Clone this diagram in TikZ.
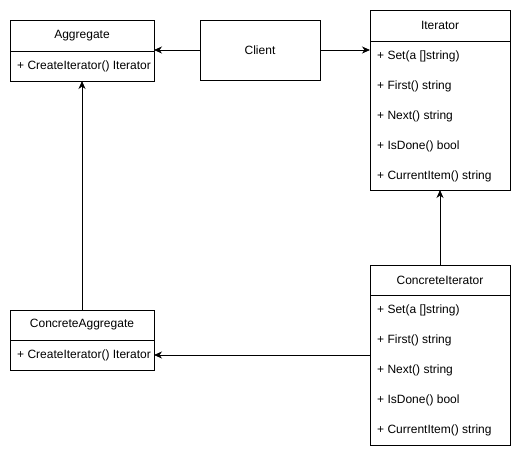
\documentclass[tikz,border=0pt]{standalone}
\usepackage{fontspec}
\setmainfont{Liberation Sans}
\usetikzlibrary{arrows.meta,positioning}

\tikzset{
  classbox/.style={draw, line width=.8pt, inner sep=0, outer sep=0, anchor=north west, minimum width=144},
  method/.style={anchor=west, inner sep=2pt},
  link/.style={line width=.8pt, -{Stealth[length=8pt,width=7pt,inset=2.5pt]}}
}

\begin{document}
\begin{tikzpicture}[x=1pt, y=-1pt, every node/.style={font=\fontsize{12}{14}\selectfont}]
  \useasboundingbox (0,0) rectangle (521,456);

  % classes on the left
  \node[classbox, minimum height=31] (agghead) at (10,20) {Aggregate};
  \node[classbox, minimum height=30] (aggbody) at (agghead.south west) {};
  \node[method] (aggcreate) at (15,66) {+ CreateIterator() Iterator};

  \node[classbox, minimum height=30] (cagghead) at (10,310) {ConcreteAggregate};
  \node[classbox, minimum height=30] (caggbody) at (cagghead.south west) {};
  \node[method] (caggcreate) at (15,355) {+ CreateIterator() Iterator};

  % client
  \node[classbox, minimum width=120, minimum height=60] (client) at (200,20) {Client};

  % iterators on the right
  \node[classbox, minimum width=140, minimum height=31] (iterhead) at (370,10) {Iterator};
  \node[classbox, minimum width=140, minimum height=149] (iterbody) at (iterhead.south west) {};
  \node[method] (iterset)   at (375,56)  {+ Set(a []string)};
  \node[method] (iterfirst) at (375,86)  {+ First() string};
  \node[method] (iternext)  at (375,116) {+ Next() string};
  \node[method] (iterdone)  at (375,146) {+ IsDone() bool};
  \node[method] (iteritem)  at (375,176) {+ CurrentItem() string};

  \node[classbox, minimum width=140, minimum height=30] (cithead) at (370,265) {ConcreteIterator};
  \node[classbox, minimum width=140, minimum height=150] (citbody) at (cithead.south west) {};
  \node[method] (citset)   at (375,310) {+ Set(a []string)};
  \node[method] (citfirst) at (375,340) {+ First() string};
  \node[method] (citnext)  at (375,370) {+ Next() string};
  \node[method] (citdone)  at (375,400) {+ IsDone() bool};
  \node[method] (cititem)  at (375,430) {+ CurrentItem() string};

  % relations
  \draw[link] (client.west) -- (agghead.east |- client.west);
  \draw[link] (client.east) -- (iterbody.west |- client.east);
  \draw[link] (cithead.north) -- (iterbody.south);
  \draw[link] (cagghead.north) -- (aggbody.south);
  \draw[link] (citbody.west |- caggbody.east) -- (caggbody.east);

\end{tikzpicture}
\end{document}
